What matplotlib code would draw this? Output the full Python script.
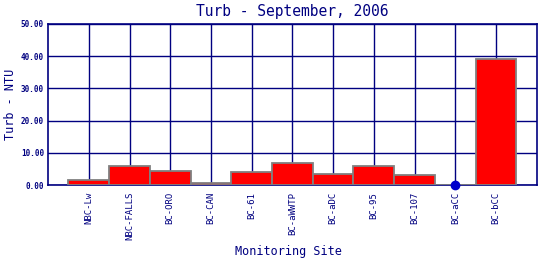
import matplotlib
matplotlib.use("Agg")
import matplotlib.pyplot as plt

sites = ["NBC-Lw", "NBC-FALLS", "BC-ORO", "BC-CAN", "BC-61", "BC-aWWTP",
         "BC-aDC", "BC-95", "BC-107", "BC-aCC", "BC-bCC"]
turb = [1.5, 5.9, 4.4, 0.8, 4.0, 6.8, 3.6, 5.9, 3.1, 0.0, 39.2]
yticks = [0, 10, 20, 30, 40, 50]

navy = "#000080"
plt.rcParams["font.family"] = ["DejaVu Sans Mono"]

fig = plt.figure(figsize=(5.4, 2.6), dpi=100)
ax = fig.add_axes([0.089, 0.288, 0.905, 0.620])

x = list(range(len(sites)))
ax.set_axisbelow(True)
ax.grid(True, color=navy, linewidth=1)
heights = [v if v > 0 else 0 for v in turb]
ax.bar(x, heights, width=1.0, color="#ff0000", edgecolor="#808080", linewidth=1.3, zorder=3)
zx = [i for i, v in enumerate(turb) if v == 0]
ax.plot(zx, [0] * len(zx), "o", color="#0000cc", markersize=6, zorder=4, clip_on=False)

ax.set_xlim(-1, len(sites))
ax.set_ylim(0, 50)
ax.set_xticks(x)
ax.set_xticklabels(sites, rotation=90, fontsize=6.5, color=navy)
ax.set_yticks(yticks)
ax.set_yticklabels(["%.2f" % v for v in yticks], fontsize=5.5, color=navy, fontweight="bold")
ax.tick_params(axis="y", length=0, pad=3)
ax.tick_params(axis="x", length=0, pad=5)
for s in ax.spines.values():
    s.set_color(navy)
    s.set_linewidth(1.2)

ax.set_title("Turb - September, 2006", fontsize=10.5, color=navy, pad=6)
fig.text(0.02, 0.6, "Turb - NTU", fontsize=8.5, color=navy, rotation=90, ha="center", va="center")
fig.text(0.535, 0.02, "Monitoring Site", fontsize=8.5, color=navy, ha="center")

fig.savefig("out.png", dpi=100)
